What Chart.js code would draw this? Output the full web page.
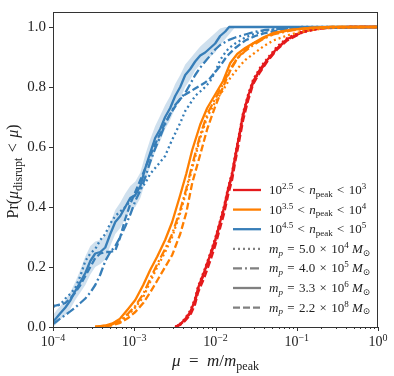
<!DOCTYPE html>
<html>
<head>
<meta charset="utf-8">
<script src="https://cdn.jsdelivr.net/npm/chart.js@4"></script>
<style>
  html, body { margin: 0; padding: 0; background: #fff; }
  #chart { display: block; }
</style>
</head>
<body>
<canvas id="chart" width="394" height="376" style="width:394px;height:376px"></canvas>
<script>
// mu = m / m_peak grid for each n_peak bin, and Pr(mu_disrupt < mu) per resolution

const redMu = [3.2e-3, 3.7e-3, 4.2e-3, 4.9e-3, 5.6e-3, 6.1e-3, 7.3e-3, 8.6e-3, 9.9e-3, 1.14e-2,
  1.28e-2, 1.43e-2, 1.6e-2, 1.75e-2, 1.96e-2, 2.19e-2, 2.52e-2, 2.91e-2, 3.55e-2, 4.33e-2,
  5.74e-2, 7.63e-2, 0.12, 0.194, 0.454, 1];
const redDotted = [0, 0.012, 0.028, 0.055, 0.095, 0.135, 0.19, 0.245, 0.295, 0.355, 0.405, 0.465, 0.515,
  0.575, 0.645, 0.715, 0.775, 0.825, 0.865, 0.895, 0.935, 0.963, 0.987, 0.997, 1, 1];
const redDashDot = [0, 0.009, 0.023, 0.046, 0.085, 0.125, 0.18, 0.235, 0.285, 0.345, 0.395, 0.455, 0.505,
  0.565, 0.635, 0.705, 0.765, 0.815, 0.855, 0.888, 0.928, 0.958, 0.984, 0.996, 1, 1];
const redSolid = [0, 0.01, 0.025, 0.05, 0.09, 0.13, 0.185, 0.24, 0.29, 0.35, 0.40, 0.46, 0.51,
  0.57, 0.64, 0.71, 0.77, 0.82, 0.86, 0.89, 0.93, 0.96, 0.985, 0.996, 1, 1];
const redDashed = [0, 0.008, 0.02, 0.04, 0.075, 0.115, 0.165, 0.22, 0.27, 0.33, 0.38, 0.44, 0.49,
  0.55, 0.62, 0.69, 0.755, 0.81, 0.85, 0.885, 0.925, 0.955, 0.983, 0.995, 1, 1];

const orangeMu = [3.3e-4, 4.4e-4, 5.4e-4, 6.7e-4, 8.4e-4, 1.03e-3, 1.29e-3, 1.57e-3, 1.92e-3, 2.4e-3,
  2.93e-3, 3.68e-3, 4.36e-3, 5.17e-3, 6.49e-3, 7.91e-3, 9.91e-3, 1.24e-2, 1.52e-2, 1.85e-2,
  2.32e-2, 2.91e-2, 3.86e-2, 5.13e-2, 8.3e-2, 0.146, 0.258, 1];
const orangeDotted = [0, 0.003, 0.008, 0.018, 0.04, 0.065, 0.10, 0.15, 0.20, 0.25, 0.30, 0.38, 0.45, 0.53,
  0.63, 0.70, 0.75, 0.79, 0.83, 0.86, 0.89, 0.91, 0.935, 0.955, 0.975, 0.99, 0.997, 1];
const orangeDashDot = [0, 0.004, 0.009, 0.02, 0.045, 0.07, 0.11, 0.16, 0.21, 0.26, 0.31, 0.39, 0.46, 0.54,
  0.64, 0.71, 0.76, 0.81, 0.86, 0.895, 0.92, 0.94, 0.96, 0.975, 0.988, 0.996, 1, 1];
const orangeSolid = [0, 0.005, 0.012, 0.028, 0.06, 0.09, 0.14, 0.19, 0.235, 0.29, 0.35, 0.44, 0.51, 0.59,
  0.675, 0.73, 0.775, 0.82, 0.88, 0.91, 0.93, 0.946, 0.965, 0.98, 0.99, 0.997, 1, 1];
const orangeDashed = [0, 0.002, 0.006, 0.014, 0.03, 0.05, 0.08, 0.115, 0.155, 0.20, 0.24, 0.31, 0.38, 0.48,
  0.575, 0.66, 0.735, 0.80, 0.855, 0.895, 0.925, 0.945, 0.962, 0.978, 0.99, 0.997, 1, 1];

const blueMu = [1.0e-4, 1.1e-4, 1.23e-4, 1.42e-4, 1.63e-4, 1.88e-4, 2.17e-4, 2.5e-4, 2.88e-4, 3.31e-4,
  3.82e-4, 4.4e-4, 5.07e-4, 5.84e-4, 6.73e-4, 7.75e-4, 8.93e-4, 1.03e-3, 1.19e-3, 1.37e-3,
  1.57e-3, 1.81e-3, 2.09e-3, 2.4e-3, 2.77e-3, 3.19e-3, 3.68e-3, 4.24e-3, 4.89e-3, 5.62e-3,
  6.49e-3, 7.47e-3, 8.61e-3, 9.91e-3, 1.14e-2, 1.32e-2, 1.47e-2, 1.75e-2, 2.32e-2, 3.08e-2,
  4.09e-2, 6.25e-2, 0.11, 1];
const blueDotted = [0.068, 0.07, 0.075, 0.095, 0.11, 0.13, 0.17, 0.22, 0.245, 0.26, 0.29, 0.31, 0.345, 0.37,
  0.385, 0.40, 0.42, 0.44, 0.46, 0.48, 0.51, 0.53, 0.55, 0.57, 0.61, 0.645, 0.68, 0.72, 0.745, 0.77,
  0.785, 0.80, 0.82, 0.85, 0.89, 0.915, 0.93, 0.945, 0.965, 0.978, 0.987, 0.995, 1, 1];
const blueDashDot = [0.01, 0.018, 0.028, 0.04, 0.052, 0.065, 0.08, 0.095, 0.115, 0.14, 0.175, 0.22, 0.25, 0.27,
  0.30, 0.335, 0.375, 0.42, 0.455, 0.50, 0.55, 0.595, 0.635, 0.675, 0.71, 0.74, 0.76, 0.78, 0.81, 0.84,
  0.865, 0.885, 0.905, 0.925, 0.94, 0.95, 0.957, 0.965, 0.975, 0.984, 0.99, 0.994, 0.997, 1];
const blueSolid = [0.017, 0.03, 0.046, 0.065, 0.088, 0.12, 0.15, 0.18, 0.22, 0.245, 0.25, 0.265, 0.31, 0.35,
  0.37, 0.40, 0.43, 0.44, 0.47, 0.53, 0.58, 0.63, 0.66, 0.70, 0.73, 0.77, 0.80, 0.84, 0.86, 0.885,
  0.905, 0.915, 0.93, 0.945, 0.97, 0.985, 1, 1, 1, 1, 1, 1, 1, 1];
const blueDashed = [0.07, 0.072, 0.075, 0.08, 0.095, 0.115, 0.14, 0.17, 0.20, 0.23, 0.245, 0.25, 0.25, 0.255,
  0.30, 0.36, 0.41, 0.45, 0.49, 0.53, 0.57, 0.61, 0.645, 0.68, 0.71, 0.735, 0.76, 0.775, 0.785, 0.795,
  0.805, 0.815, 0.83, 0.85, 0.87, 0.895, 0.91, 0.93, 0.955, 0.97, 0.98, 0.99, 0.996, 1];
// spread of the 3.3e6 Msun blue curve
const blueBandHi = [0.04, 0.055, 0.07, 0.09, 0.115, 0.15, 0.19, 0.235, 0.27, 0.285, 0.29, 0.305, 0.345, 0.39,
  0.415, 0.445, 0.47, 0.485, 0.515, 0.575, 0.625, 0.67, 0.705, 0.74, 0.77, 0.81, 0.84, 0.875, 0.895, 0.915,
  0.935, 0.95, 0.965, 0.98, 0.995, 1, 1, 1, 1, 1, 1, 1, 1, 1];
const blueBandLo = [0, 0.01, 0.025, 0.04, 0.06, 0.09, 0.115, 0.14, 0.175, 0.2, 0.21, 0.225, 0.27, 0.31,
  0.33, 0.36, 0.39, 0.4, 0.43, 0.485, 0.535, 0.585, 0.62, 0.66, 0.69, 0.73, 0.76, 0.80, 0.825, 0.855,
  0.875, 0.885, 0.9, 0.915, 0.94, 0.96, 0.975, 1, 1, 1, 1, 1, 1, 1];

const xTicks = [1e-4, 1e-3, 1e-2, 1e-1, 1];
const yTicks = [0, 0.2, 0.4, 0.6, 0.8, 1.0];

const RED = '#e41a1c';
const ORANGE = '#ff7f00';
const BLUE = '#377eb8';
const BAND = 'rgba(55,126,184,0.24)';
const GREY = '#808080';
const INK = '#222';
const FONT = '"Liberation Serif", "DejaVu Serif", serif';
const LINE_W = 2.3;
const SP = '\u2004'; // TeX-ish spacing around relations

const DOTTED = [2, 3];
const DASHDOT = [9, 3, 2, 3];
const SOLID = [];
const DASHED = [7, 3];

function series(mu, pr) {
  return mu.map((x, i) => ({ x: x, y: pr[i] }));
}

function curve(label, mu, pr, color, dash, order) {
  return {
    label: label,
    data: series(mu, pr),
    borderColor: color,
    borderWidth: LINE_W,
    borderDash: dash,
    borderJoinStyle: 'round',
    pointRadius: 0,
    fill: false,
    tension: 0,
    order: order
  };
}

// [text, kind] kind: 'i' italic, '^' superscript, '_' subscript
function partFont(kind, size) {
  const small = kind.includes('^') || kind.includes('_');
  const s = small ? Math.round(size * 0.72) : size;
  return (kind.includes('i') ? 'italic ' : '') + s + 'px ' + FONT;
}

function drawRich(ctx, parts, x, y, size, align) {
  let w = 0;
  parts.forEach(p => {
    ctx.font = partFont(p[1] || '', size);
    w += ctx.measureText(p[0]).width;
  });
  let cx = align === 'center' ? x - w / 2 : x;
  ctx.textAlign = 'left';
  ctx.textBaseline = 'alphabetic';
  parts.forEach(p => {
    const k = p[1] || '';
    ctx.font = partFont(k, size);
    let dy = 0;
    if (k.includes('^')) dy = -size * 0.38;
    if (k.includes('_')) dy = size * 0.22;
    ctx.fillText(p[0], cx, y + dy);
    cx += ctx.measureText(p[0]).width;
  });
  return w;
}

const legendRows = [
  { color: RED, dash: SOLID, parts: [['10'], ['2.5', '^'], [SP + '<' + SP], ['n', 'i'], ['peak', '_'], [SP + '<' + SP + '10'], ['3', '^']] },
  { color: ORANGE, dash: SOLID, parts: [['10'], ['3.5', '^'], [SP + '<' + SP], ['n', 'i'], ['peak', '_'], [SP + '<' + SP + '10'], ['4', '^']] },
  { color: BLUE, dash: SOLID, parts: [['10'], ['4.5', '^'], [SP + '<' + SP], ['n', 'i'], ['peak', '_'], [SP + '<' + SP + '10'], ['5', '^']] },
  { color: GREY, dash: DOTTED, parts: [['m', 'i'], ['p', '_i'], [SP + '=' + SP + '5.0' + SP + '×' + SP + '10'], ['4', '^'], [' '], ['M', 'i'], ['⊙', '_']] },
  { color: GREY, dash: DASHDOT, parts: [['m', 'i'], ['p', '_i'], [SP + '=' + SP + '4.0' + SP + '×' + SP + '10'], ['5', '^'], [' '], ['M', 'i'], ['⊙', '_']] },
  { color: GREY, dash: SOLID, parts: [['m', 'i'], ['p', '_i'], [SP + '=' + SP + '3.3' + SP + '×' + SP + '10'], ['6', '^'], [' '], ['M', 'i'], ['⊙', '_']] },
  { color: GREY, dash: DASHED, parts: [['m', 'i'], ['p', '_i'], [SP + '=' + SP + '2.2' + SP + '×' + SP + '10'], ['8', '^'], [' '], ['M', 'i'], ['⊙', '_']] }
];

const decorations = {
  id: 'decorations',
  afterDraw(chart) {
    const ctx = chart.ctx;
    const area = chart.chartArea;
    const xs = chart.scales.x;
    ctx.save();

    // frame
    ctx.strokeStyle = '#333';
    ctx.lineWidth = 1;
    ctx.strokeRect(area.left + 0.5, area.top + 0.5, area.right - area.left - 1, area.bottom - area.top);

    // x ticks, major and minor, outward
    ctx.beginPath();
    xTicks.forEach(v => {
      const px = Math.round(xs.getPixelForValue(v)) + 0.5;
      ctx.moveTo(px, area.bottom);
      ctx.lineTo(px, area.bottom + 4);
    });
    for (let d = 0; d < xTicks.length - 1; d++) {
      for (let m = 2; m < 10; m++) {
        const px = Math.round(xs.getPixelForValue(xTicks[d] * m)) + 0.5;
        ctx.moveTo(px, area.bottom);
        ctx.lineTo(px, area.bottom + 2);
      }
    }
    ctx.stroke();

    // x tick labels 10^n
    ctx.fillStyle = INK;
    xTicks.forEach(v => {
      const e = Math.round(Math.log10(v));
      const label = e < 0 ? '\u2212' + (-e) : String(e);
      drawRich(ctx, [['10'], [label, '^']], xs.getPixelForValue(v), area.bottom + 19, 14, 'center');
    });

    // axis titles
    drawRich(ctx, [['μ', 'i'], ['\u2002=\u2002'], ['m', 'i'], ['/'], ['m', 'i'], ['peak', '_']],
      (area.left + area.right) / 2, 366, 17, 'center');
    ctx.save();
    ctx.translate(18, (area.top + area.bottom) / 2 + 2);
    ctx.rotate(-Math.PI / 2);
    drawRich(ctx, [['Pr('], ['μ', 'i'], ['disrupt', '_'], [SP + '<' + SP], ['μ', 'i'], [')']], 0, 0, 16, 'center');
    ctx.restore();

    // legend
    legendRows.forEach((row, i) => {
      const y = 190 + i * 19.6;
      ctx.strokeStyle = row.color;
      ctx.lineWidth = LINE_W;
      ctx.setLineDash(row.dash);
      ctx.beginPath();
      ctx.moveTo(233, y);
      ctx.lineTo(261, y);
      ctx.stroke();
      ctx.setLineDash([]);
      ctx.fillStyle = INK;
      drawRich(ctx, row.parts, 269, y + 4, 13, 'left');
    });
    ctx.restore();
  }
};

new Chart(document.getElementById('chart'), {
  type: 'line',
  data: {
    datasets: [
      curve('red dotted', redMu, redDotted, RED, DOTTED, 3),
      curve('red dashdot', redMu, redDashDot, RED, DASHDOT, 3),
      curve('red solid', redMu, redSolid, RED, SOLID, 3),
      curve('red dashed', redMu, redDashed, RED, DASHED, 3),
      curve('blue dotted', blueMu, blueDotted, BLUE, DOTTED, 2),
      curve('blue dashdot', blueMu, blueDashDot, BLUE, DASHDOT, 2),
      curve('blue solid', blueMu, blueSolid, BLUE, SOLID, 2),
      curve('blue dashed', blueMu, blueDashed, BLUE, DASHED, 2),
      curve('orange dotted', orangeMu, orangeDotted, ORANGE, DOTTED, 1),
      curve('orange dashdot', orangeMu, orangeDashDot, ORANGE, DASHDOT, 1),
      curve('orange solid', orangeMu, orangeSolid, ORANGE, SOLID, 1),
      curve('orange dashed', orangeMu, orangeDashed, ORANGE, DASHED, 1),
      {
        label: 'band hi', data: series(blueMu, blueBandHi), borderWidth: 0, borderColor: 'rgba(0,0,0,0)',
        backgroundColor: BAND, fill: '+1', pointRadius: 0, tension: 0, order: 5
      },
      {
        label: 'band lo', data: series(blueMu, blueBandLo), borderWidth: 0, borderColor: 'rgba(0,0,0,0)',
        fill: false, pointRadius: 0, tension: 0, order: 6
      }
    ]
  },
  options: {
    responsive: false,
    animation: false,
    layout: { padding: { top: 5, right: 16, left: 0, bottom: 0 } },
    plugins: { legend: { display: false }, tooltip: { enabled: false } },
    scales: {
      x: {
        type: 'logarithmic',
        min: 1e-4,
        max: 1,
        afterBuildTicks: s => { s.ticks = xTicks.map(v => ({ value: v })); },
        afterFit: s => { s.height = 49; },
        ticks: { display: false },
        grid: { display: false },
        border: { display: false }
      },
      y: {
        min: 0,
        max: 1.05,
        afterBuildTicks: s => { s.ticks = yTicks.map(v => ({ value: v })); },
        afterFit: s => { s.width = 53; },
        ticks: {
          color: INK,
          padding: 3,
          font: { family: FONT, size: 15 },
          callback: v => v.toFixed(1)
        },
        grid: { drawOnChartArea: false, drawTicks: true, tickLength: 4, tickColor: '#333' },
        border: { display: false }
      }
    }
  },
  plugins: [decorations]
});
</script>
</body>
</html>
